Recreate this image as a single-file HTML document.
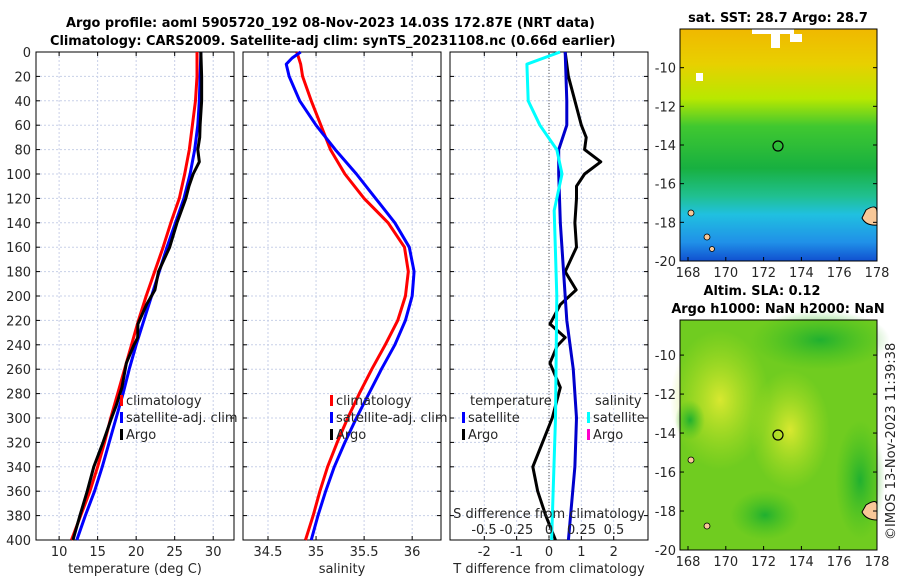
<!DOCTYPE html>
<html><head><meta charset="utf-8"><style>
body{margin:0;background:#fff}
svg{display:block;font-family:"DejaVu Sans","Liberation Sans",sans-serif}
.t{font-size:13px;fill:#262626}
.b{font-weight:bold;font-size:12.9px;fill:#000}
.g{stroke:#c8d0e8;stroke-dasharray:2,2;stroke-width:1}
</style></head><body>
<svg id="s" width="900" height="580" viewBox="0 0 900 580">
<defs>
<linearGradient id="sst" x1="0" y1="0" x2="0" y2="1">
<stop offset="0" stop-color="#f0b800"/><stop offset="0.15" stop-color="#e8d000"/><stop offset="0.3" stop-color="#b8e800"/>
<stop offset="0.42" stop-color="#40c830"/><stop offset="0.6" stop-color="#18b040"/><stop offset="0.72" stop-color="#20c090"/>
<stop offset="0.8" stop-color="#20c0e0"/><stop offset="0.92" stop-color="#2090e8"/><stop offset="1" stop-color="#1050d0"/>
</linearGradient>
<radialGradient id="yb"><stop offset="0" stop-color="#d8e830"/><stop offset="1" stop-color="#b8e020" stop-opacity="0"/></radialGradient>
<radialGradient id="gb"><stop offset="0" stop-color="#20b030"/><stop offset="1" stop-color="#40c020" stop-opacity="0"/></radialGradient>
</defs>
<g>
<text class="b" x="66" y="27">Argo profile: aoml 5905720_192 08-Nov-2023 14.03S 172.87E (NRT data)</text>
<text class="b" x="50" y="45">Climatology: CARS2009. Satellite-adj clim: synTS_20231108.nc (0.66d earlier)</text>
</g>
<g id="p1"></g>
<g id="p2"></g>
<g id="p3"></g>
<g>
<rect x="680" y="29" width="197" height="232" fill="url(#sst)"/>
<rect x="752" y="29" width="42" height="5" fill="#fff"/><rect x="771" y="29" width="9" height="19" fill="#fff"/><rect x="790" y="34" width="12" height="8" fill="#fff"/><rect x="696" y="73" width="7" height="8" fill="#fff"/>
<circle cx="778" cy="146" r="5" fill="none" stroke="#000" stroke-width="1.2"/>
<path d="M866 210 Q877 203 877 212 L877 225 Q866 226 862 218 Z" fill="#f8c898" stroke="#000"/>
<circle cx="691" cy="213" r="3" fill="#f8c898" stroke="#000" stroke-width="0.8"/><circle cx="707" cy="237" r="3" fill="#f8c898" stroke="#000" stroke-width="0.8"/><circle cx="712" cy="249" r="2.5" fill="#f8c898" stroke="#000" stroke-width="0.8"/>
<rect x="680" y="29" width="197" height="232" fill="none" stroke="#000"/>
<text class="b" x="778" y="22" text-anchor="middle">sat. SST: 28.7 Argo: 28.7</text>
</g>
<g>
<rect x="680" y="320" width="197" height="230" fill="#70cc20"/>
<ellipse cx="720" cy="400" rx="50" ry="70" fill="url(#yb)"/>
<ellipse cx="790" cy="430" rx="40" ry="60" fill="url(#yb)"/>
<ellipse cx="820" cy="340" rx="70" ry="30" fill="url(#gb)"/>
<ellipse cx="860" cy="480" rx="25" ry="60" fill="url(#gb)"/>
<ellipse cx="765" cy="515" rx="35" ry="25" fill="url(#gb)"/>
<ellipse cx="690" cy="420" rx="15" ry="20" fill="url(#gb)"/>
<circle cx="778" cy="435" r="5" fill="none" stroke="#000" stroke-width="1.2"/>
<path d="M866 505 Q877 498 877 505 L877 520 Q866 520 862 512 Z" fill="#f8c898" stroke="#000"/>
<circle cx="691" cy="460" r="3" fill="#f8c898" stroke="#000" stroke-width="0.8"/><circle cx="707" cy="526" r="3" fill="#f8c898" stroke="#000" stroke-width="0.8"/>
<rect x="680" y="320" width="197" height="230" fill="none" stroke="#000"/>
<text class="b" x="762" y="295" text-anchor="middle">Altim. SLA: 0.12</text>
<text class="b" x="778" y="313" text-anchor="middle">Argo h1000: NaN h2000: NaN</text>
</g>
<text class="t" transform="translate(895,540) rotate(-90)">©IMOS 13-Nov-2023 11:39:38</text>
</svg>
<script>
const depthT=[0,20,40,60,80,100,120,140,160,180,200,220,240,260,280,300,320,340,360,380,400];
const tempClim=[27.9,27.9,27.7,27.3,26.9,26.3,25.6,24.5,23.5,22.4,21.3,20.3,19.4,18.5,17.6,16.7,15.9,15.0,14.0,12.8,11.6];
const tempSat=[28.4,28.3,28.2,28.0,27.6,27.0,26.2,25.1,24.0,23.0,22.0,21.0,20.0,19.1,18.3,17.4,16.5,15.6,14.6,13.4,12.3];
const depthA=[0,20,40,60,70,80,90,100,110,120,140,160,180,195,207,223,234,241,255,275,290,300,320,340,360,380,400];
const tempArgo=[28.4,28.5,28.5,28.3,28.25,28.0,28.2,27.4,26.85,26.45,25.3,24.35,22.9,22.44,21.35,20.23,20.2,19.65,18.73,18.15,17.4,16.8,15.7,14.5,13.65,12.7,11.8];
const tDiffArgo=[0.5,0.6,0.8,1.0,1.15,1.1,1.6,1.1,0.85,0.85,0.8,0.85,0.5,0.84,0.35,0.03,0.5,0.25,0.03,0.35,0.2,0.1,-0.2,-0.5,-0.35,-0.1,0.2];
const depthS=[0,5,10,20,40,60,80,100,120,140,160,180,200,220,240,260,280,300,320,340,360,380,400];
const salClim=[34.8,34.82,34.84,34.86,34.95,35.05,35.15,35.3,35.5,35.75,35.92,35.96,35.93,35.85,35.72,35.58,35.45,35.33,35.22,35.12,35.04,34.97,34.89];
const salSat=[34.84,34.75,34.69,34.72,34.83,35.0,35.2,35.42,35.62,35.82,35.97,36.02,36.0,35.93,35.82,35.68,35.55,35.42,35.3,35.19,35.1,35.02,34.95];
const depthD=[0,40,60,80,100,140,180,220,260,300,340,370,400];
const tDiffSat=[0.5,0.55,0.55,0.3,0.3,0.35,0.45,0.55,0.75,0.85,0.8,0.7,0.6];
const depthSD=[0,10,40,60,80,100,120,130,200,300,400];
const sDiffSat=[0.085,-0.17,-0.16,-0.07,0.06,0.1,0.06,0.04,0.06,0.05,0.02];
const depthTicks=[0,20,40,60,80,100,120,140,160,180,200,220,240,260,280,300,320,340,360,380,400];
const tTicks=[10,15,20,25,30], sTicks=[34.5,35,35.5,36], dTicks=[-2,-1,0,1,2], sdTicks=[-0.5,-0.25,0,0.25,0.5];
const sdLabels=['-0.5','-0.25','0','0.25','0.5'];
const NS='http://www.w3.org/2000/svg';
function el(p,tag,a,txt){const e=document.createElementNS(NS,tag);for(const k in a)e.setAttribute(k,a[k]);if(txt!==undefined)e.textContent=txt;p.appendChild(e);return e;}
const Y0=52,Y1=540;const y=d=>Y0+d*(Y1-Y0)/400;
function panel(g,x0,x1,xmin,xmax,ticks,labels,xlabel,leftLabels){
  const x=v=>x0+(v-xmin)*(x1-x0)/(xmax-xmin);
  ticks.forEach(t=>{const l=el(g,'line',{x1:x(t),x2:x(t),y1:Y0,y2:Y1,class:'g'});});
  depthTicks.forEach(d=>{el(g,'line',{x1:x0,x2:x1,y1:y(d),y2:y(d),class:'g'});el(g,'line',{x1:x0,x2:x0+4,y1:y(d),y2:y(d),stroke:'#000'});el(g,'line',{x1:x1-4,x2:x1,y1:y(d),y2:y(d),stroke:'#000'});
    if(leftLabels){const t=el(g,'text',{x:x0-5,y:y(d)+5,class:'t','text-anchor':'end'},d);}});
  ticks.forEach((t,i)=>{el(g,'line',{x1:x(t),x2:x(t),y1:Y1,y2:Y1-4,stroke:'#000'});el(g,'line',{x1:x(t),x2:x(t),y1:Y0,y2:Y0+4,stroke:'#000'});
    const tl=el(g,'text',{x:x(t),y:Y1+16,class:'t','text-anchor':'middle'},labels[i]);});
  const xl=el(g,'text',{x:(x0+x1)/2,y:Y1+33,class:'t','text-anchor':'middle'},xlabel);
  const fr=el(g,'rect',{x:x0,y:Y0,width:x1-x0,height:Y1-Y0,fill:'none',stroke:'#000'});
  return x;
}
function line(g,x,ds,vs,color,name){const p=el(g,'polyline',{points:vs.map((v,i)=>x(v)+','+y(ds[i])).join(' '),fill:'none',stroke:color,'stroke-width':3,'stroke-linejoin':'round'});}
function legend(g,lx,ly,items){items.forEach((it,i)=>{el(g,'rect',{x:lx,y:ly+i*17-10,width:3,height:11,fill:it[1]});const t=el(g,'text',{x:lx+6,y:ly+i*17,class:'t'},it[0]);});}
const p1=document.getElementById('p1'),p2=document.getElementById('p2'),p3=document.getElementById('p3');
const x1=panel(p1,36,234,7.0,32.7,tTicks,tTicks.map(String),'temperature (deg C)',true);
line(p1,x1,depthT,tempClim,'#f00','temp-climatology-line');line(p1,x1,depthT,tempSat,'#00f','temp-satellite-line');line(p1,x1,depthA,tempArgo,'#000','temp-argo-line');
legend(p1,120,405,[['climatology','#f00'],['satellite-adj. clim','#00f'],['Argo','#000']]);
const x2=panel(p2,243,441,34.24,36.3,sTicks,sTicks.map(String),'salinity',false);
line(p2,x2,depthS,salClim,'#f00','sal-climatology-line');line(p2,x2,depthS,salSat,'#00f','sal-satellite-line');
legend(p2,330,405,[['climatology','#f00'],['satellite-adj. clim','#00f'],['Argo','#000']]);
const x3=panel(p3,450,648,-3.06,3.06,dTicks,dTicks.map(String),'T difference from climatology',false);
const xs=v=>549+v*130;
el(p3,'line',{x1:549,x2:549,y1:Y0,y2:Y1,stroke:'#555','stroke-dasharray':'1,2'});
line(p3,x3,depthA,tDiffArgo,'#000','tdiff-argo-line');
line(p3,x3,depthD,tDiffSat,'#00c','tdiff-satellite-line');
line(p3,xs,depthSD,sDiffSat,'#0ff','sdiff-satellite-line');
el(p3,'text',{x:470,y:405,class:'t'},'temperature');el(p3,'text',{x:595,y:405,class:'t'},'salinity');
legend(p3,462,422,[['satellite','#00f'],['Argo','#000']]);legend(p3,587,422,[['satellite','#0ff'],['Argo','#f0c']]);
el(p3,'text',{x:549,y:518,class:'t','text-anchor':'middle'},'S difference from climatology');
sdTicks.forEach((t,i)=>{const tl=el(p3,'text',{x:xs(t),y:534,class:'t','text-anchor':'middle'},sdLabels[i]);});
const s=document.getElementById('s');
function mapAxes(top,bot,latTop){const yl=v=>top+(v-(latTop))*(bot-top)/(-20-latTop);
  [-10,-12,-14,-16,-18,-20].forEach(v=>{el(s,'line',{x1:680,x2:684,y1:yl(v),y2:yl(v),stroke:'#000'});el(s,'line',{x1:873,x2:877,y1:yl(v),y2:yl(v),stroke:'#000'});const t=el(s,'text',{x:676,y:yl(v)+5,class:'t','text-anchor':'end'},v);});
  [168,170,172,174,176,178].forEach(v=>{const xx=688+(v-168)*18.9;el(s,'line',{x1:xx,x2:xx,y1:bot,y2:bot-4,stroke:'#000'});const t=el(s,'text',{x:xx,y:bot+16,class:'t','text-anchor':'middle'},v);});}
mapAxes(29,261,-8.0);mapAxes(320,550,-8.2);
</script>
</body></html>
